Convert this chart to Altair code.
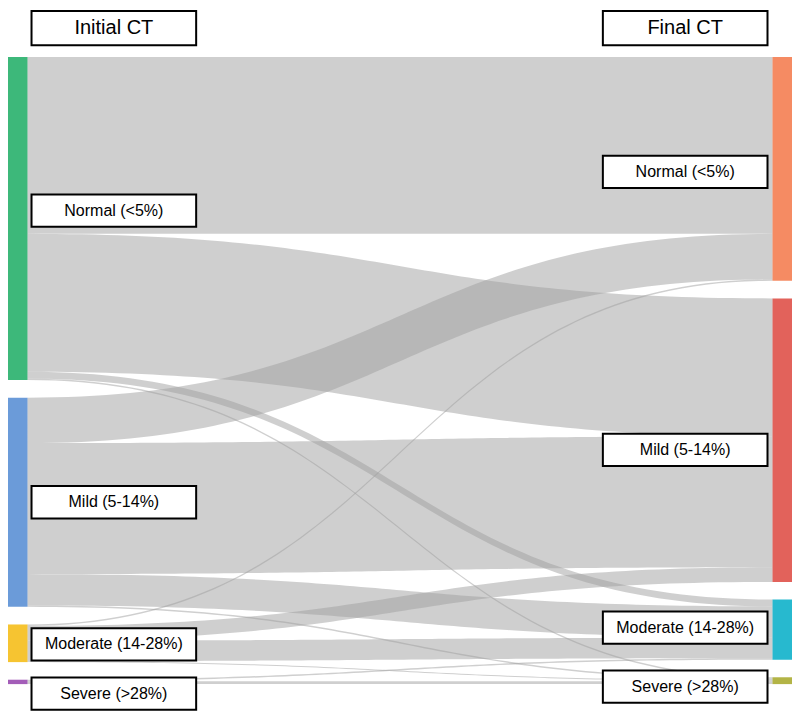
import altair as alt
import numpy as np
import pandas as pd

# ---------------- data ----------------
levels = ["Normal (<5%)", "Mild (5-14%)", "Moderate (14-28%)", "Severe (>28%)"]
titles = ["Initial CT", "Final CT"]

link_source = [0, 0, 0, 0, 1, 1, 1, 1, 2, 2, 2, 2, 3, 3]
link_target = [0, 1, 2, 3, 0, 1, 2, 3, 0, 1, 2, 3, 2, 3]
link_value = [181, 141, 7, 1.5, 46.5, 134, 32, 1.5, 1.5, 15, 21, 1, 1.5, 3]

left_colors = ["#3db87a", "#6b9bd9", "#f6c431", "#a35db8"]
right_colors = ["#f58b63", "#e2625b", "#27b9cf", "#b3b446"]

# ---------------- layout (reference pixel space) ----------------
W_REF, H_REF = 800, 719
TOP = 50
GAP = 18
NODE_W = 20
X_LEFT, X_RIGHT = 0, W_REF - NODE_W
BOX_W, BOX_H = 168, 33
LEFT_BOX_X = 24
RIGHT_BOX_X = 607
label_offset_left = [-8, 0, 1, 12]
label_offset_right = [3, 10, -2, 6]

n = len(levels)
left_tot = [sum(v for s, v in zip(link_source, link_value) if s == i) for i in range(n)]
right_tot = [sum(v for t, v in zip(link_target, link_value) if t == i) for i in range(n)]


def stack(tot):
    y0s, y = [], TOP
    for v in tot:
        y0s.append(y)
        y += v + GAP
    return y0s


left_y0 = stack(left_tot)
right_y0 = stack(right_tot)

# node rects
node_rows = []
for i in range(n):
    node_rows.append(dict(x=X_LEFT, x2=X_LEFT + NODE_W, y=left_y0[i], y2=left_y0[i] + left_tot[i],
                          color=left_colors[i]))
    node_rows.append(dict(x=X_RIGHT, x2=X_RIGHT + NODE_W, y=right_y0[i], y2=right_y0[i] + right_tot[i],
                          color=right_colors[i]))
nodes_df = pd.DataFrame(node_rows)

# link band positions
src_off = list(left_y0)
tgt_pos = {}
order_src = sorted(range(len(link_value)), key=lambda k: (link_source[k], link_target[k]))
src_pos = {}
for k in order_src:
    s = link_source[k]
    src_pos[k] = src_off[s]
    src_off[s] += link_value[k]
tgt_off = list(right_y0)
order_tgt = sorted(range(len(link_value)), key=lambda k: (link_target[k], link_source[k]))
for k in order_tgt:
    t = link_target[k]
    tgt_pos[k] = tgt_off[t]
    tgt_off[t] += link_value[k]

x0, x1 = X_LEFT + NODE_W, X_RIGHT
xm = (x0 + x1) / 2
ts = np.linspace(0, 1, 80)
link_rows = []
for k in range(len(link_value)):
    a, b, v = src_pos[k], tgt_pos[k], link_value[k]
    for t in ts:
        xx = (1 - t) ** 3 * x0 + 3 * (1 - t) ** 2 * t * xm + 3 * (1 - t) * t ** 2 * xm + t ** 3 * x1
        s = 3 * t ** 2 - 2 * t ** 3
        yt = a + (b - a) * s
        link_rows.append(dict(link=k, x=xx, y=yt, y2=yt + v))
links_df = pd.DataFrame(link_rows)

# label boxes
box_rows = []
for i in range(n):
    cl = left_y0[i] + left_tot[i] / 2 + label_offset_left[i]
    cr = right_y0[i] + right_tot[i] / 2 + label_offset_right[i]
    box_rows.append(dict(x=LEFT_BOX_X, x2=LEFT_BOX_X + BOX_W, y=cl - BOX_H / 2, y2=cl + BOX_H / 2,
                         xc=LEFT_BOX_X + BOX_W / 2, yc=cl, label=levels[i], size=16))
    box_rows.append(dict(x=RIGHT_BOX_X, x2=RIGHT_BOX_X + BOX_W, y=cr - BOX_H / 2, y2=cr + BOX_H / 2,
                         xc=RIGHT_BOX_X + BOX_W / 2, yc=cr, label=levels[i], size=16))
title_top, title_h = 3, 35
for bx, ttl in zip([LEFT_BOX_X, RIGHT_BOX_X], titles):
    box_rows.append(dict(x=bx, x2=bx + BOX_W, y=title_top, y2=title_top + title_h,
                         xc=bx + BOX_W / 2, yc=title_top + title_h / 2, label=ttl, size=20))
boxes_df = pd.DataFrame(box_rows)

# ---------------- chart ----------------
xs = alt.Scale(domain=[0, W_REF], nice=False, zero=False)
ys = alt.Scale(domain=[0, H_REF], nice=False, zero=False, reverse=True)

nodes = alt.Chart(nodes_df).mark_rect().encode(
    x=alt.X("x:Q", scale=xs, axis=None), x2="x2:Q",
    y=alt.Y("y:Q", scale=ys, axis=None), y2="y2:Q",
    color=alt.Color("color:N", scale=None),
)

links = alt.Chart(links_df).mark_area(color="#a0a0a0", opacity=0.5, interpolate="linear").encode(
    x=alt.X("x:Q", scale=xs, axis=None),
    y=alt.Y("y:Q", scale=ys, axis=None), y2="y2:Q",
    detail="link:N",
)

boxes = alt.Chart(boxes_df).mark_rect(fill="white", stroke="black", strokeWidth=2).encode(
    x=alt.X("x:Q", scale=xs, axis=None), x2="x2:Q",
    y=alt.Y("y:Q", scale=ys, axis=None), y2="y2:Q",
)

texts = alt.Chart(boxes_df).mark_text(font="Liberation Sans", color="black", align="center",
                                      baseline="middle").encode(
    x=alt.X("xc:Q", scale=xs, axis=None),
    y=alt.Y("yc:Q", scale=ys, axis=None),
    text="label:N",
    size=alt.Size("size:Q", scale=None),
)

chart = alt.layer(nodes, links, boxes, texts).properties(
    width=784, height=703, padding=0, autosize=alt.AutoSizeParams(type="none")
).configure_view(strokeWidth=0)

chart.save("out.html", embed_options={"renderer": "svg", "actions": False})
